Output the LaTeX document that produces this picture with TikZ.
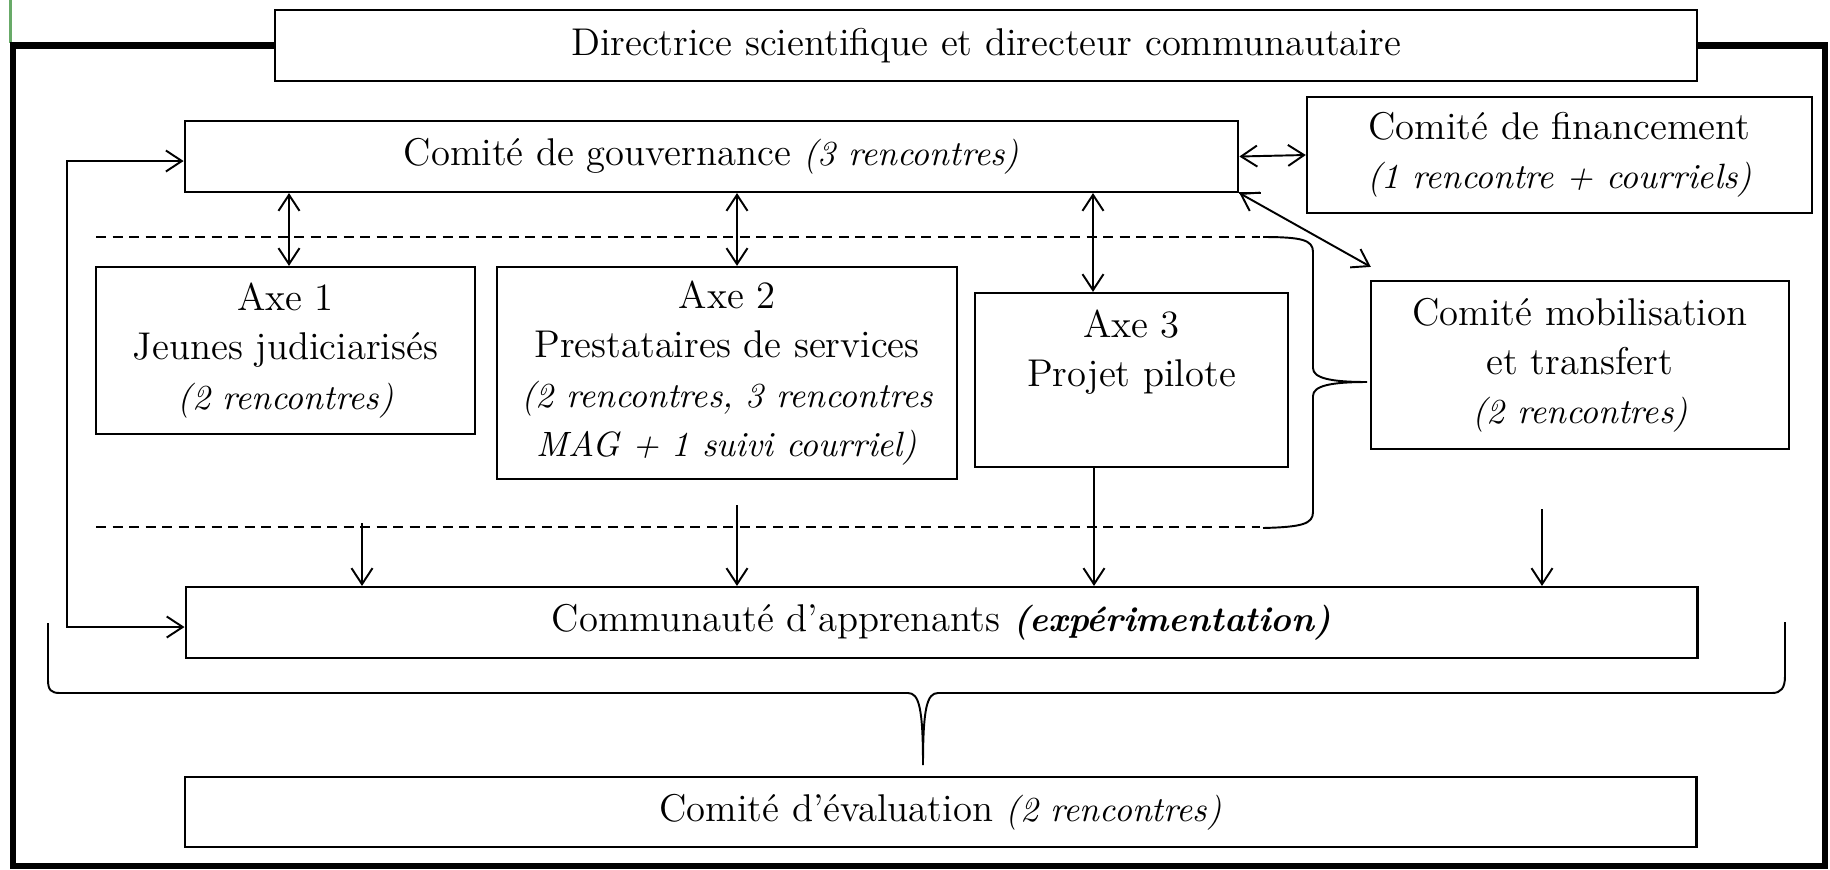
\documentclass[tikz,border=0pt]{standalone}
\usepackage{fontspec}
\usetikzlibrary{arrows.meta}
\definecolor{vert}{RGB}{104,170,104}
\newcommand{\precis}[1]{{\fontsize{10}{14}\selectfont\itshape #1}}
\tikzset{
	boite/.style={draw, fill=white, line width=0.6pt, align=center, inner sep=0pt, font=\fontsize{11}{14}\selectfont},
	pointille/.style={dash pattern=on 1mm off 0.65mm}
}
\begin{document}
\begin{tikzpicture}[x=0.01cm, y=-0.01cm, line width=0.55pt, >={Straight Barb[length=1.6mm,width=2.1mm]}]
		\useasboundingbox (0,0) rectangle (1830,869);
		\draw[vert, line width=0.3mm] (10.5,0) -- (10.5,43);
		\draw[line width=0.65mm] (13,45.5) rectangle (1825,866);
		\draw[pointille] (96,237) -- (1260,237);
		\draw[pointille] (96,527) -- (1260,527);
		\node[boite, minimum width=142.2mm, minimum height=7.1mm] (direction) at (986,45.5) {Directrice scientifique et directeur communautaire};
		\node[boite, minimum width=105.3mm, minimum height=7.1mm] (gouvernance) at (711.5,156.5) {Comité de gouvernance \precis{(3 rencontres)}};
		\node[boite, minimum width=50.5mm, minimum height=11.6mm] (financement) at (1559.5,155) {Comité de financement\\\precis{(1 rencontre + courriels)}};
		\node[boite, minimum width=37.9mm, minimum height=16.7mm] (axe1) at (285.5,350.5) {Axe 1\\Jeunes judiciarisés\\\precis{(2 rencontres)}};
		\node[boite, minimum width=46mm, minimum height=21.2mm] (axe2) at (727,373) {Axe 2\\Prestataires de services\\\precis{(2 rencontres, 3 rencontres}\\\precis{MAG + 1 suivi courriel)}};
		\node[boite, minimum width=31.3mm, minimum height=17.4mm] (axe3) at (1131.5,380) {Axe 3\\Projet pilote\\\strut};
		\node[boite, minimum width=41.8mm, minimum height=16.8mm] (mobilisation) at (1580,365) {Comité mobilisation\\et transfert\\\precis{(2 rencontres)}};
		\node[boite, minimum width=151.1mm, minimum height=7.1mm] (communaute) at (941.5,622.5) {Communauté d’apprenants \precis{\bfseries(expérimentation)}};
		\node[boite, minimum width=151.1mm, minimum height=7mm] (evaluation) at (940.5,812) {Comité d’évaluation \precis{(2 rencontres)}};
		\foreach \x/\n in {289/axe1, 737/axe2, 1093/axe3}
			\draw[<->] (\x,0 |- gouvernance.south) -- (\x,0 |- \n.north);
		\draw[<->] (gouvernance.east) -- (financement.west);
		\draw (gouvernance.south east) -- ++(22,0);
		\draw[<->] (gouvernance.south east) -- ([shift={(1,-13)}]mobilisation.north west);
		\draw[<->] ([yshift=-0.45mm]gouvernance.west) -- ++(-117,0) |- ([yshift=-0.45mm]communaute.west);
		\foreach \x/\y in {362/523, 737/505, 1542/509}
			\draw[->] (\x,\y) -- (\x,0 |- communaute.north);
		\draw[->] (1094,0 |- axe3.south) -- (1094,0 |- communaute.north);
		\draw (1263,237) .. controls (1302,237) and (1313,240) .. (1313,252) -- (1313,368) .. controls (1313,378) and (1330,382) .. (1367,382) .. controls (1330,382) and (1313,386) .. (1313,396) -- (1313,512) .. controls (1313,524) and (1302,527) .. (1263,528);
		\draw (48,623) -- (48,680) .. controls (48,690) and (51,693) .. (60,693) -- (908,693) .. controls (919,693) and (923,708) .. (923,765) .. controls (923,708) and (927,693) .. (938,693) -- (1772,693) .. controls (1781,693) and (1785,688) .. (1785,676) -- (1785,622);
	\end{tikzpicture}
\end{document}
